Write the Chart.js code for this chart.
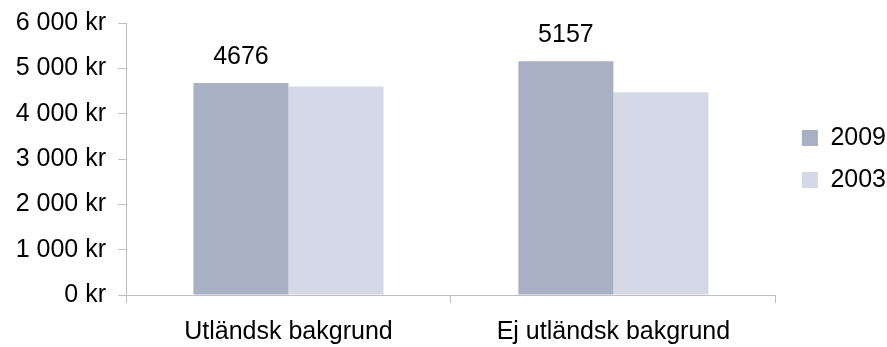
<!DOCTYPE html>
<html>
<head>
<meta charset="utf-8">
<script src="https://cdn.jsdelivr.net/npm/chart.js@4"></script>
<style>
    html, body { margin: 0; padding: 0; background: #fff; }
    .chart-container { width: 887px; height: 347px; }
</style>
</head>
<body>
<div class="chart-container"><canvas id="incomeChart"></canvas></div>
<script>
const categories = ['Utländsk bakgrund', 'Ej utländsk bakgrund'];
const values2009 = [4676, 5157];
const values2003 = [4600, 4470];
const yTicks = [0, 1000, 2000, 3000, 4000, 5000, 6000];

function formatKr(value) {
    // Swedish style: space as thousands separator
    return String(value).replace(/\B(?=(\d{3})+(?!\d))/g, ' ') + ' kr';
}

// Draw value labels above the 2009 bars
const valueLabels = {
    id: 'valueLabels',
    afterDatasetsDraw(chart) {
        const ctx = chart.ctx;
        const meta = chart.getDatasetMeta(0);
        ctx.save();
        ctx.font = '25px "Liberation Sans", Arial, sans-serif';
        ctx.fillStyle = '#000';
        ctx.textAlign = 'center';
        ctx.textBaseline = 'alphabetic';
        meta.data.forEach((bar, i) => {
            ctx.fillText(String(values2009[i]), bar.x, bar.y - 19);
        });
        ctx.restore();
    }
};

// Center the legend on the plot area and nudge it right
const legendPlacer = {
    id: 'legendPlacer',
    afterLayout(chart) {
        const legend = chart.legend;
        const area = chart.chartArea;
        if (!legend) return;
        const dy = (area.top + area.bottom) / 2 - (legend.top + legend.bottom) / 2;
        legend.top += dy;
        legend.bottom += dy;
        legend.left += 9;
        legend.right += 9;
    }
};

const ctx = document.getElementById('incomeChart').getContext('2d');
Chart.defaults.font.family = '"Liberation Sans", Arial, sans-serif';
Chart.defaults.font.size = 25;
Chart.defaults.color = '#000';

new Chart(ctx, {
    type: 'bar',
    data: {
        labels: categories,
        datasets: [
            {
                label: '2009',
                data: values2009,
                backgroundColor: '#AAB0C3',
                categoryPercentage: 0.585,
                barPercentage: 1.0
            },
            {
                label: '2003',
                data: values2003,
                backgroundColor: '#D5D9E7',
                categoryPercentage: 0.585,
                barPercentage: 1.0
            }
        ]
    },
    options: {
        responsive: true,
        maintainAspectRatio: false,
        animation: false,
        layout: {
            padding: { top: 23, right: 0, bottom: 0, left: 0 }
        },
        plugins: {
            tooltip: { enabled: false },
            legend: {
                position: 'right',
                labels: {
                    boxWidth: 16,
                    boxHeight: 16,
                    padding: 17,
                    font: { size: 25 }
                }
            }
        },
        scales: {
            x: {
                offset: true,
                afterFit(axis) {
                    axis.height = 52;
                },
                grid: {
                    offset: true,
                    drawOnChartArea: false,
                    drawTicks: true,
                    tickLength: 8,
                    color: '#BFBFBF'
                },
                border: { color: '#BFBFBF', width: 1 },
                ticks: { padding: 14 }
            },
            y: {
                min: 0,
                max: 6000,
                afterBuildTicks(axis) {
                    axis.ticks = yTicks.map(v => ({ value: v }));
                },
                afterFit(axis) {
                    axis.width = 126;
                    axis.paddingTop = 0;
                    axis.paddingBottom = 0;
                },
                grid: {
                    drawOnChartArea: false,
                    drawTicks: true,
                    tickLength: 8,
                    color: '#BFBFBF'
                },
                border: { color: '#BFBFBF', width: 1 },
                ticks: {
                    padding: 12,
                    callback: function(value) {
                        return formatKr(value);
                    }
                }
            }
        }
    },
    plugins: [valueLabels, legendPlacer]
});
</script>
</body>
</html>
